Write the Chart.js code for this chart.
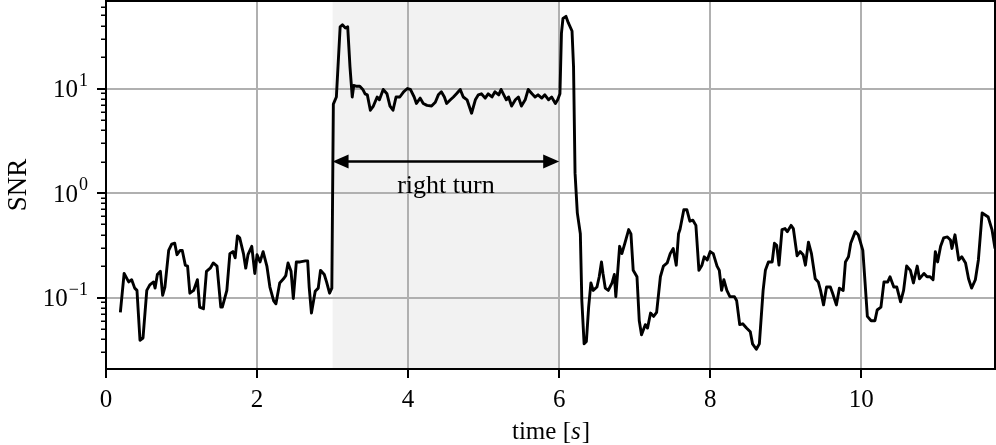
<!DOCTYPE html>
<html>
<head>
<meta charset="utf-8">
<script src="https://cdn.jsdelivr.net/npm/chart.js@4.4.0/dist/chart.umd.min.js"></script>
<style>
  html, body { margin: 0; padding: 0; background: #fff; }
  #wrap { width: 996px; height: 445px; }
</style>
</head>
<body>
<div id="wrap"><canvas id="snr-chart"></canvas></div>
<script>
// time axis [s] and SNR
const times = [
  0.19,0.24,0.30,0.34,0.38,0.41,0.45,0.49,0.54,0.58,0.63,0.65,0.68,0.72,0.75,0.78,0.83,0.87,0.91,0.94,
  0.98,1.01,1.05,1.08,1.11,1.16,1.21,1.24,1.29,1.33,1.38,1.42,1.47,1.52,1.54,1.60,1.64,1.68,1.71,1.74,
  1.77,1.82,1.85,1.88,1.93,1.97,2.00,2.04,2.08,2.13,2.17,2.22,2.25,2.30,2.35,2.38,2.41,2.45,2.48,2.52,
  2.57,2.64,2.67,2.69,2.72,2.77,2.81,2.84,2.89,2.92,2.96,2.99,
  3.01,3.05,3.10,3.13,3.17,3.20,3.23,3.26,3.28,3.32,3.36,3.40,3.43,3.46,3.50,3.54,3.59,3.62,3.67,3.72,
  3.76,3.80,3.84,3.89,3.94,3.99,4.03,4.08,4.11,4.16,4.20,4.25,4.31,4.36,4.40,4.44,4.48,4.51,4.56,4.60,
  4.64,4.69,4.73,4.78,4.84,4.89,4.93,4.97,5.02,5.06,5.11,5.15,5.20,5.23,5.26,5.30,5.33,5.37,5.42,5.46,
  5.50,5.55,5.59,5.64,5.68,5.72,5.77,5.81,5.86,5.90,5.95,5.98,6.01,
  6.03,6.05,6.09,6.12,6.17,6.19,6.21,6.24,6.28,6.30,6.33,6.36,6.39,6.42,6.45,6.50,6.53,6.56,6.58,6.61,
  6.65,6.70,6.73,6.75,6.80,6.83,6.87,6.92,6.95,6.98,7.03,7.06,7.09,7.14,7.17,7.21,7.25,7.29,7.34,7.38,
  7.43,7.47,7.51,7.55,7.58,
  7.60,7.65,7.69,7.73,7.77,7.81,7.85,7.89,7.92,7.96,8.00,8.04,8.09,8.12,8.15,8.18,8.22,8.26,8.32,8.35,
  8.39,8.43,8.48,8.53,8.56,8.61,8.65,8.70,8.73,8.77,8.82,8.85,8.88,8.91,8.95,8.99,9.02,9.07,9.10,
  9.15,9.19,9.23,9.26,9.30,9.34,9.39,9.43,9.46,9.50,9.54,9.59,9.62,9.67,9.71,9.76,9.79,9.83,9.86,9.92,
  9.96,10.02,10.05,10.08,10.13,10.18,10.21,10.26,10.30,10.35,10.38,10.43,10.47,10.52,10.56,10.60,10.65,10.69,10.74,10.77,
  10.83,10.87,10.91,10.95,10.98,11.01,11.05,11.09,11.14,11.18,11.20,11.24,11.29,11.33,11.38,11.42,11.46,11.51,11.55,11.60,
  11.64,11.68,11.73,11.77
];
const snr = [
  0.072,0.170,0.141,0.148,0.123,0.117,0.039,0.041,0.117,0.132,0.141,0.123,0.166,0.178,0.105,0.126,0.282,0.324,0.331,0.257,
  0.282,0.282,0.204,0.200,0.110,0.117,0.148,0.081,0.078,0.178,0.191,0.214,0.200,0.081,0.081,0.117,0.263,0.275,0.240,0.389,
  0.372,0.263,0.191,0.257,0.309,0.170,0.257,0.219,0.275,0.200,0.126,0.093,0.087,0.138,0.151,0.162,0.214,0.178,0.098,0.219,
  0.219,0.224,0.224,0.126,0.071,0.115,0.123,0.182,0.166,0.141,0.110,0.123,
  7.1,8.3,38.9,40.7,38.0,38.9,16.2,8.3,10.7,10.5,10.5,9.8,8.9,8.7,6.2,6.8,8.3,7.8,9.8,8.9,
  6.8,6.2,8.3,8.3,9.3,10.0,9.8,8.3,7.2,8.1,7.2,6.9,6.8,7.4,8.7,9.3,8.3,7.2,7.8,8.3,
  8.9,9.8,8.3,7.8,5.8,7.8,8.7,8.9,8.1,8.9,8.3,9.3,8.7,9.8,8.9,7.8,8.3,6.8,7.8,8.3,
  6.8,7.8,9.8,8.9,8.3,8.7,8.1,8.7,7.8,8.3,7.2,7.8,8.9,
  33.9,46.8,49.0,42.7,35.5,16.2,1.55,0.646,0.407,0.093,0.036,0.038,0.081,0.138,0.117,0.126,0.158,0.219,0.170,0.123,
  0.117,0.138,0.166,0.102,0.309,0.263,0.331,0.447,0.407,0.182,0.158,0.060,0.044,0.055,0.051,0.071,0.066,0.072,0.158,0.200,
  0.214,0.263,0.295,0.204,0.407,
  0.45,0.692,0.692,0.537,0.550,0.490,0.182,0.204,0.245,0.229,0.275,0.263,0.200,0.182,0.117,0.148,0.117,0.102,0.102,0.093,
  0.055,0.056,0.051,0.047,0.036,0.032,0.036,0.117,0.182,0.219,0.219,0.331,0.316,0.204,0.447,0.457,0.427,0.490,0.457,
  0.251,0.275,0.257,0.204,0.339,0.263,0.151,0.141,0.117,0.085,0.126,0.126,0.110,0.085,0.123,0.117,0.219,0.245,0.331,0.427,
  0.398,0.282,0.138,0.066,0.060,0.060,0.076,0.081,0.141,0.141,0.158,0.126,0.126,0.091,0.117,0.200,0.182,0.138,0.200,0.151,
  0.170,0.158,0.158,0.148,0.275,0.219,0.309,0.372,0.380,0.355,0.295,0.398,0.229,0.245,0.214,0.151,0.123,0.148,0.229,0.646,
  0.617,0.589,0.447,0.295
];

// y axis: labelled decades (10^exp) and the unlabelled minor ticks
const yMajorTicks = [0.1, 1, 10];
const yTickExponents = ['\u22121', '0', '1'];
const yMinorTicks = [0.03,0.04,0.05,0.06,0.07,0.08,0.09, 0.2,0.3,0.4,0.5,0.6,0.7,0.8,0.9,
                     2,3,4,5,6,7,8,9, 20,30,40,50,60];

// the shaded turn interval and its arrow
const turnStart = 3;
const turnEnd = 6;
const turnArrowY = 2;
const turnLabelY = 1;
const turnLabel = 'right turn';

const FONT = 'Liberation Serif';
Chart.defaults.font.family = FONT;
Chart.defaults.font.size = 25;
Chart.defaults.color = '#000';

const decadeIndex = v => yMajorTicks.findIndex(m => Math.abs(m - v) < 1e-9);

const decorations = {
  id: 'decorations',
  beforeDraw(chart) {
    const { ctx, chartArea: a, scales: { x } } = chart;
    ctx.save();
    ctx.fillStyle = '#fff';
    ctx.fillRect(0, 0, chart.width, chart.height);
    const x0 = x.getPixelForValue(turnStart);
    const x1 = x.getPixelForValue(turnEnd);
    ctx.fillStyle = 'rgba(128,128,128,0.1)';
    ctx.fillRect(x0, a.top, x1 - x0, a.bottom - a.top);
    ctx.restore();
  },
  afterDatasetsDraw(chart) {
    const { ctx, scales: { x, y } } = chart;
    const x0 = x.getPixelForValue(turnStart);
    const x1 = x.getPixelForValue(turnEnd);
    const ya = y.getPixelForValue(turnArrowY);
    const head = 16, half = 7;
    ctx.save();
    ctx.strokeStyle = '#000';
    ctx.fillStyle = '#000';
    ctx.lineWidth = 2.5;
    ctx.beginPath();
    ctx.moveTo(x0 + head - 2, ya);
    ctx.lineTo(x1 - head + 2, ya);
    ctx.stroke();
    [[x0, 1], [x1, -1]].forEach(([px, dir]) => {
      ctx.beginPath();
      ctx.moveTo(px, ya);
      ctx.lineTo(px + dir * head, ya - half);
      ctx.lineTo(px + dir * head, ya + half);
      ctx.closePath();
      ctx.fill();
    });

    ctx.font = '26px "' + FONT + '"';
    ctx.textAlign = 'center';
    ctx.textBaseline = 'alphabetic';
    ctx.fillText(turnLabel, x.getPixelForValue((turnStart + turnEnd) / 2), y.getPixelForValue(turnLabelY));
    ctx.restore();
  },
  afterDraw(chart) {
    const { ctx, chartArea: a, scales: { y } } = chart;
    ctx.save();
    ctx.strokeStyle = '#000';
    ctx.fillStyle = '#000';
    ctx.lineWidth = 1.5;
    yMinorTicks.forEach(v => {
      const py = Math.round(y.getPixelForValue(v)) + 0.25;
      ctx.beginPath();
      ctx.moveTo(a.left - 5, py);
      ctx.lineTo(a.left, py);
      ctx.stroke();
    });
    ctx.lineWidth = 2;
    ctx.strokeRect(a.left, a.top, a.right - a.left, a.bottom - a.top);

    // decade labels: "10" with a raised exponent
    const right = a.left - 18;
    yMajorTicks.forEach((v, i) => {
      const py = y.getPixelForValue(v);
      const exp = yTickExponents[i];
      ctx.textAlign = 'left';
      ctx.textBaseline = 'alphabetic';
      ctx.font = '18px "' + FONT + '"';
      const ew = ctx.measureText(exp).width;
      ctx.fillText(exp, right - ew, py - 3);
      ctx.font = '25px "' + FONT + '"';
      const bw = ctx.measureText('10').width;
      ctx.fillText('10', right - ew - bw - 1, py + 8.5);
    });

    // x axis title with italic unit symbol
    const parts = [['time [', ''], ['s', 'italic '], [']', '']];
    ctx.textBaseline = 'middle';
    let total = 0;
    parts.forEach(([t, st]) => { ctx.font = st + '25px "' + FONT + '"'; total += ctx.measureText(t).width; });
    let cx = (a.left + a.right) / 2 - total / 2;
    parts.forEach(([t, st]) => {
      ctx.font = st + '25px "' + FONT + '"';
      ctx.fillText(t, cx, 432.5);
      cx += ctx.measureText(t).width + (st ? 1 : 0);
    });
    ctx.restore();
  }
};

new Chart(document.getElementById('snr-chart'), {
  type: 'line',
  data: {
    datasets: [{
      data: times.map((t, i) => ({ x: t, y: snr[i] })),
      borderColor: '#000',
      borderWidth: 2.9,
      borderJoinStyle: 'round',
      pointRadius: 0,
      tension: 0,
      fill: false
    }]
  },
  options: {
    responsive: true,
    maintainAspectRatio: false,
    animation: false,
    devicePixelRatio: 1,
    layout: { padding: { top: 1, right: 1, left: 0, bottom: 0 } },
    plugins: { legend: { display: false }, tooltip: { enabled: false } },
    scales: {
      x: {
        type: 'linear',
        min: 0,
        max: 11.77,
        border: { display: false },
        grid: { color: '#b0b0b0', lineWidth: 2, tickColor: '#000', tickLength: 9, tickWidth: 2 },
        ticks: { stepSize: 2, includeBounds: false, padding: 7, maxRotation: 0, autoSkip: false },
        title: { display: false },
        afterFit(s) { s.height = 76; s.paddingLeft = 0; s.paddingRight = 0; }
      },
      y: {
        type: 'logarithmic',
        min: 0.0207,
        max: 68.8,
        border: { display: false },
        afterBuildTicks(s) {
          s.ticks = yMajorTicks.concat(yMinorTicks).sort((p, q) => p - q).map(v => ({ value: v }));
        },
        grid: {
          color: c => (c.tick && decadeIndex(c.tick.value) >= 0) ? '#b0b0b0' : 'rgba(0,0,0,0)',
          lineWidth: 2,
          tickColor: c => (c.tick && decadeIndex(c.tick.value) >= 0) ? '#000' : 'rgba(0,0,0,0)',
          tickLength: 9,
          tickWidth: 2
        },
        ticks: { autoSkip: false, padding: 9, callback: () => '' },
        title: { display: true, text: 'SNR', font: { size: 27, lineHeight: 1 }, padding: { top: 5, bottom: 0 } },
        afterFit(s) { s.width = 106; s.paddingTop = 0; s.paddingBottom = 0; }
      }
    }
  },
  plugins: [decorations]
});
</script>
</body>
</html>
